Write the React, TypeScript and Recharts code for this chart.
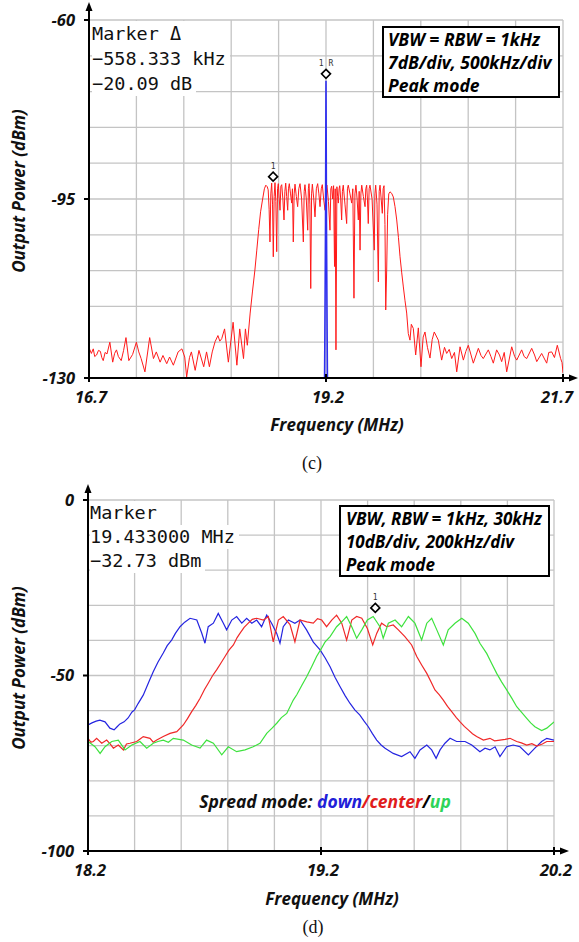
import React from 'react'
import { LineChart, Line, XAxis, YAxis, CartesianGrid, ReferenceDot } from 'recharts'

// ---- panel (c): single-tone reference vs. spread spectrum ----
const freqTicksC = [16.7, 17.2, 17.7, 18.2, 18.7, 19.2, 19.7, 20.2, 20.7, 21.2, 21.7]
const freqLabelsC = [16.7, 19.2, 21.7]
const powerTicksC = [-130, -123, -116, -109, -102, -95, -88, -81, -74, -67, -60]
const powerLabelsC = [-130, -95, -60]

const spreadC: [number, number][] = [
  [16.7, -124.2], [16.71, -124.5], [16.725, -125.2], [16.745, -124.3], [16.76, -125.8], [16.78, -125.5],
  [16.8, -124.6], [16.82, -124.8], [16.835, -126.0], [16.85, -126.6], [16.87, -125.0], [16.89, -125.3],
  [16.92, -123.0], [16.95, -126.9], [16.97, -125.2], [16.99, -124.5], [17.01, -125.8], [17.04, -126.6],
  [17.065, -124.6], [17.09, -122.1], [17.12, -126.6], [17.16, -125.4], [17.2, -123.0], [17.225, -124.9],
  [17.25, -126.2], [17.29, -128.8], [17.34, -122.1], [17.38, -126.2], [17.41, -124.9], [17.45, -126.9],
  [17.48, -125.6], [17.52, -127.2], [17.55, -125.9], [17.59, -127.5], [17.64, -124.9], [17.68, -124.3],
  [17.71, -125.9], [17.73, -129.8], [17.76, -126.0], [17.78, -124.9], [17.82, -128.5], [17.86, -124.6],
  [17.91, -127.8], [17.94, -124.9], [17.97, -127.8], [18.0, -124.9], [18.03, -122.9], [18.06, -121.7],
  [18.08, -122.8], [18.1, -122.3], [18.13, -120.4], [18.17, -126.9], [18.22, -119.1], [18.26, -127.5],
  [18.29, -120.4], [18.33, -126.2], [18.35, -120.4], [18.37, -123.6],
  [18.4, -117.3], [18.425, -113.0], [18.45, -108.9], [18.47, -105.0], [18.49, -101.0], [18.51, -97.5],
  [18.53, -95.2], [18.55, -93.0], [18.565, -92.3], [18.58, -92.6], [18.59, -93.2], [18.6, -97.0],
  [18.609, -103.4], [18.618, -94.0], [18.627, -91.9], [18.636, -96.0], [18.644, -106.3], [18.653, -94.5],
  [18.662, -91.8], [18.671, -95.5], [18.68, -105.3], [18.689, -93.0], [18.697, -92.0], [18.706, -94.8],
  [18.715, -97.2], [18.724, -92.5], [18.733, -92.2], [18.745, -95.0], [18.757, -99.1], [18.766, -93.5],
  [18.775, -91.9], [18.785, -94.5], [18.796, -97.2], [18.804, -93.0], [18.813, -92.0], [18.826, -94.0],
  [18.838, -95.8], [18.846, -93.0], [18.855, -103.4], [18.864, -94.0], [18.873, -92.1], [18.887, -94.5],
  [18.901, -96.5], [18.913, -93.0], [18.926, -92.0], [18.943, -95.0], [18.961, -103.4], [18.97, -93.5],
  [18.978, -92.2], [18.992, -95.0], [19.007, -101.1], [19.014, -93.0], [19.021, -92.0], [19.03, -96.0],
  [19.039, -112.5], [19.048, -94.0], [19.056, -92.1], [19.07, -94.8], [19.084, -98.5], [19.098, -93.0],
  [19.112, -92.0], [19.125, -94.0], [19.137, -96.5], [19.15, -93.0], [19.161, -92.2], [19.175, -95.0],
  [19.19, -97.2], [19.2, -93.0], [19.21, -92.3], [19.226, -95.5], [19.242, -101.1], [19.251, -93.0],
  [19.26, -92.5], [19.27, -95.0], [19.28, -92.4], [19.29, -108.2], [19.297, -93.0], [19.305, -124.5],
  [19.315, -92.6], [19.323, -94.5], [19.33, -95.8], [19.338, -93.0], [19.345, -92.4], [19.355, -95.0],
  [19.365, -99.1], [19.373, -93.5], [19.382, -92.3], [19.4, -96.0], [19.418, -99.8], [19.426, -93.0],
  [19.435, -92.3], [19.453, -94.0], [19.471, -95.8], [19.483, -93.0], [19.495, -114.4], [19.505, -94.0],
  [19.516, -92.3], [19.528, -95.0], [19.541, -99.1], [19.55, -93.5], [19.559, -105.0], [19.568, -94.0],
  [19.577, -92.3], [19.594, -94.5], [19.612, -96.5], [19.62, -93.0], [19.629, -92.3], [19.637, -95.0],
  [19.646, -99.8], [19.655, -93.0], [19.664, -92.3], [19.686, -95.0], [19.709, -105.0], [19.716, -94.0],
  [19.724, -92.3], [19.738, -96.0], [19.752, -111.2], [19.761, -93.5], [19.77, -92.3], [19.782, -95.0],
  [19.794, -97.8], [19.803, -93.0], [19.812, -92.4], [19.822, -100.0], [19.83, -116.7], [19.84, -108.9],
  [19.85, -98.0], [19.862, -94.0], [19.875, -93.6], [19.893, -93.9], [19.91, -94.6], [19.928, -96.5],
  [19.946, -99.1], [19.964, -102.5], [19.981, -106.3], [19.998, -109.3], [20.016, -112.2], [20.033, -114.8],
  [20.051, -117.3], [20.068, -121.3], [20.086, -122.6], [20.1, -119.5], [20.121, -120.3], [20.146, -125.5],
  [20.174, -120.2], [20.202, -127.8], [20.225, -122.0], [20.244, -121.0], [20.27, -124.0], [20.297, -126.1],
  [20.32, -122.5], [20.342, -121.0], [20.385, -122.6], [20.42, -126.5], [20.45, -124.0], [20.473, -125.2],
  [20.5, -124.4], [20.526, -126.2], [20.555, -125.0], [20.579, -128.8], [20.614, -123.9], [20.649, -126.5],
  [20.675, -124.8], [20.701, -123.6], [20.73, -125.5], [20.754, -127.1], [20.807, -124.2], [20.835, -125.6],
  [20.859, -126.2], [20.912, -124.5], [20.94, -125.8], [20.965, -127.1], [21.0, -124.5], [21.03, -125.5],
  [21.053, -126.8], [21.08, -125.0], [21.106, -128.8], [21.159, -123.9], [21.19, -125.8], [21.212, -126.5],
  [21.264, -124.5], [21.29, -125.8], [21.317, -126.2], [21.37, -124.2], [21.4, -125.5], [21.423, -126.8],
  [21.475, -125.2], [21.528, -127.1], [21.55, -125.0], [21.581, -124.9], [21.61, -126.0], [21.64, -123.6],
  [21.675, -126.2], [21.69, -127.0], [21.7, -129.0],
]

const toneC: [number, number][] = [
  [19.185, -130], [19.188, -122], [19.195, -100], [19.2, -71.9], [19.205, -100], [19.212, -122], [19.215, -130],
]

const markersC = [
  { f: 18.642, v: -92.0, label: '1' },
  { f: 19.2, v: -71.9, label: '1 R' },
]

// ---- panel (d): spread mode down / center / up ----
const freqTicksD = [18.2, 18.4, 18.6, 18.8, 19.0, 19.2, 19.4, 19.6, 19.8, 20.0, 20.2]
const freqLabelsD = [18.2, 19.2, 20.2]
const powerTicksD = [-100, -90, -80, -70, -60, -50, -40, -30, -20, -10, 0]
const powerLabelsD = [-100, -50, 0]

const downD: [number, number][] = [
  [18.2, -64.1], [18.217, -63.5], [18.235, -63.0], [18.251, -62.7], [18.273, -63.2], [18.294, -65.0],
  [18.312, -65.5], [18.325, -64.6], [18.337, -63.8], [18.355, -63.2], [18.372, -62.1], [18.389, -60.4],
  [18.4, -59.8], [18.415, -58.0], [18.437, -55.6], [18.46, -52.0], [18.48, -48.9], [18.5, -46.2],
  [18.523, -43.6], [18.54, -41.5], [18.559, -39.9], [18.575, -38.0], [18.595, -36.1], [18.615, -34.8],
  [18.638, -33.7], [18.667, -34.2], [18.688, -37.9], [18.702, -40.8], [18.716, -36.1], [18.738, -35.1],
  [18.759, -32.3], [18.781, -35.1], [18.795, -37.0], [18.817, -34.2], [18.838, -33.2], [18.86, -35.1],
  [18.881, -33.7], [18.903, -35.1], [18.924, -34.2], [18.945, -36.1], [18.967, -32.8], [18.988, -35.1],
  [19.01, -38.0], [19.024, -40.8], [19.038, -36.1], [19.06, -34.2], [19.088, -35.1], [19.11, -34.2],
  [19.138, -37.0], [19.167, -40.5], [19.196, -42.7], [19.218, -45.0], [19.239, -47.5], [19.26, -50.5],
  [19.282, -53.2], [19.304, -55.8], [19.324, -57.9], [19.345, -59.8], [19.367, -61.3], [19.385, -63.0],
  [19.403, -64.6], [19.42, -66.5], [19.439, -68.4], [19.458, -69.8], [19.475, -70.7], [19.51, -72.2],
  [19.546, -73.1], [19.582, -71.7], [19.603, -73.6], [19.625, -71.2], [19.654, -69.8], [19.675, -71.2],
  [19.694, -73.6], [19.711, -71.2], [19.732, -69.3], [19.754, -67.9], [19.782, -68.8], [19.818, -68.8],
  [19.847, -69.8], [19.882, -71.7], [19.904, -70.7], [19.925, -71.2], [19.947, -70.3], [19.968, -73.1],
  [19.997, -70.3], [20.025, -69.8], [20.054, -70.3], [20.09, -72.6], [20.118, -70.7], [20.147, -68.8],
  [20.169, -67.9], [20.2, -68.4],
]

const centerD: [number, number][] = [
  [18.2, -67.9], [18.212, -69.0], [18.223, -68.8], [18.237, -67.9], [18.259, -69.3], [18.28, -68.4],
  [18.295, -69.5], [18.309, -70.7], [18.33, -69.8], [18.352, -71.2], [18.365, -69.5], [18.38, -69.3],
  [18.409, -68.8], [18.425, -68.0], [18.437, -67.4], [18.466, -67.9], [18.48, -69.0], [18.495, -68.4],
  [18.523, -67.4], [18.552, -66.5], [18.581, -66.0], [18.609, -64.1], [18.627, -62.3], [18.645, -60.3],
  [18.663, -58.5], [18.681, -56.5], [18.7, -54.0], [18.716, -52.2], [18.735, -50.0], [18.752, -48.4],
  [18.77, -46.5], [18.788, -44.6], [18.805, -42.8], [18.824, -41.3], [18.84, -39.2], [18.852, -38.0],
  [18.87, -36.3], [18.888, -35.1], [18.905, -34.0], [18.924, -33.7], [18.953, -34.2], [18.974, -33.2],
  [18.995, -40.4], [19.017, -34.2], [19.038, -33.2], [19.067, -35.5], [19.088, -40.4], [19.11, -34.2],
  [19.139, -34.7], [19.167, -35.1], [19.185, -33.8], [19.203, -34.2], [19.224, -36.1], [19.246, -34.2],
  [19.267, -32.8], [19.289, -35.1], [19.31, -39.9], [19.332, -34.2], [19.353, -33.2], [19.375, -33.7],
  [19.399, -36.6], [19.422, -41.3], [19.439, -38.0], [19.46, -35.1], [19.482, -36.1], [19.51, -35.6],
  [19.532, -37.0], [19.56, -38.9], [19.589, -41.3], [19.611, -44.6], [19.632, -47.0], [19.654, -49.4],
  [19.672, -51.8], [19.689, -54.1], [19.708, -55.5], [19.725, -57.0], [19.743, -58.8], [19.761, -60.3],
  [19.78, -61.9], [19.797, -63.2], [19.815, -64.5], [19.832, -65.5], [19.85, -66.6], [19.868, -67.4],
  [19.897, -68.4], [19.925, -67.9], [19.945, -68.6], [19.968, -68.4], [19.99, -68.2], [20.011, -67.9],
  [20.04, -68.8], [20.06, -69.2], [20.083, -69.8], [20.105, -69.4], [20.126, -70.1], [20.15, -69.5],
  [20.169, -68.8], [20.2, -68.8],
]

const upD: [number, number][] = [
  [18.2, -68.8], [18.215, -69.5], [18.23, -70.3], [18.252, -72.2], [18.273, -70.3], [18.302, -68.8],
  [18.33, -68.4], [18.359, -71.2], [18.388, -69.8], [18.423, -68.8], [18.452, -70.7], [18.48, -69.3],
  [18.5, -68.8], [18.523, -68.4], [18.545, -69.0], [18.566, -67.9], [18.609, -68.4], [18.645, -69.8],
  [18.681, -70.7], [18.709, -68.4], [18.738, -69.3], [18.774, -72.6], [18.802, -70.3], [18.838, -71.7],
  [18.874, -71.2], [18.909, -70.3], [18.938, -69.3], [18.967, -66.5], [18.99, -65.0], [19.01, -63.6],
  [19.03, -62.0], [19.053, -60.8], [19.081, -57.0], [19.096, -55.5], [19.118, -52.8], [19.139, -50.3],
  [19.16, -47.5], [19.181, -44.6], [19.2, -42.5], [19.217, -40.5], [19.239, -38.9], [19.267, -36.1],
  [19.289, -34.7], [19.31, -33.2], [19.332, -36.1], [19.353, -39.4], [19.375, -37.0], [19.399, -34.2],
  [19.424, -33.2], [19.453, -36.1], [19.467, -39.4], [19.489, -35.1], [19.518, -34.2], [19.546, -36.1],
  [19.575, -33.2], [19.603, -35.1], [19.632, -39.9], [19.654, -35.1], [19.675, -33.7], [19.697, -37.0],
  [19.725, -41.3], [19.746, -37.0], [19.775, -35.1], [19.804, -33.7], [19.832, -35.1], [19.861, -38.0],
  [19.882, -40.8], [19.911, -43.7], [19.932, -46.5], [19.954, -49.4], [19.975, -51.8], [19.997, -54.1],
  [20.02, -56.6], [20.04, -58.9], [20.062, -60.6], [20.083, -62.2], [20.1, -63.5], [20.118, -64.6],
  [20.147, -65.7], [20.169, -65.0], [20.2, -63.2],
]

const markersD = [{ f: 19.433, v: -32.73, label: '1' }]

const LABEL_FONT = '"Open Sans", Lato, "Liberation Sans", sans-serif'
const MONO_FONT = '"DejaVu Sans Mono", "Liberation Mono", monospace'
const GRID = '#c4c4c4'

const rows = (pts: [number, number][]) => pts.map(([f, v]) => ({ f, v }))

const tickText = {
  fontFamily: LABEL_FONT,
  fontStyle: 'italic' as const,
  fontWeight: 700,
  fontSize: 16.5,
  fill: '#111',
}

const makeYTick = (labels: number[]) => (props: any) => {
  const { x, y, payload } = props
  if (!labels.includes(payload.value)) return <g />
  return (
    <g>
      <line x1={x - 5} x2={x} y1={y} y2={y} stroke="#000" strokeWidth={2} />
      <text x={x - 14} y={y} dy="0.36em" textAnchor="end" style={tickText}>
        {payload.value}
      </text>
    </g>
  )
}

const makeXTick = (labels: number[]) => (props: any) => {
  const { x, y, payload } = props
  if (!labels.includes(payload.value)) return <g />
  // keep the last label inside the 579 px page
  const tx = Math.min(x + 2, 557)
  return (
    <g>
      <line x1={x} x2={x} y1={y - 4} y2={y + 4} stroke="#000" strokeWidth={2} />
      <text x={tx} y={y + 25} textAnchor="middle" style={tickText}>
        {payload.value.toFixed(1)}
      </text>
    </g>
  )
}

const markerShape = (label: string) => (props: any) => {
  const { cx, cy } = props
  const c = cy - 7
  return (
    <g>
      <polygon
        points={`${cx},${c - 4.5} ${cx + 4.5},${c} ${cx},${c + 4.5} ${cx - 4.5},${c}`}
        fill="#fff"
        stroke="#000"
        strokeWidth={1.6}
      />
      <text x={cx} y={c - 8} textAnchor="middle" fontSize={8} fontFamily={MONO_FONT} fill="#333">
        {label}
      </text>
    </g>
  )
}

const readout: React.CSSProperties = {
  position: 'absolute',
  fontFamily: MONO_FONT,
  fontSize: 18.5,
  lineHeight: '25px',
  color: '#111',
  whiteSpace: 'pre',
}
const readoutLine: React.CSSProperties = { display: 'block', width: 'fit-content', background: '#fff', paddingRight: 4 }

const infoBox: React.CSSProperties = {
  position: 'absolute',
  boxSizing: 'border-box',
  border: '2px solid #000',
  background: '#fff',
  fontFamily: LABEL_FONT,
  fontStyle: 'italic',
  fontWeight: 700,
  fontSize: 17.5,
  lineHeight: '23px',
  color: '#000',
  whiteSpace: 'nowrap',
}

const axisTitle: React.CSSProperties = {
  position: 'absolute',
  fontFamily: LABEL_FONT,
  fontStyle: 'italic',
  fontWeight: 700,
  fontSize: 17,
  color: '#111',
  whiteSpace: 'nowrap',
  transform: 'translate(-50%, -50%)',
}

const caption: React.CSSProperties = {
  position: 'absolute',
  fontFamily: '"Liberation Serif", "DejaVu Serif", serif',
  fontSize: 18,
  color: '#111',
  transform: 'translate(-50%, -50%)',
}

export default function App() {
  const axisLine = { stroke: '#000', strokeWidth: 2 }
  return (
    <div style={{ position: 'absolute', left: 0, top: 0, width: 579, height: 942, background: '#fff', overflow: 'hidden' }}>
      {/* panel (c) */}
      <div style={{ position: 'absolute', left: 0, top: 0 }}>
        <LineChart width={579} height={470} margin={{ top: 20, right: 16, left: 29, bottom: 62 }}>
          <CartesianGrid stroke={GRID} strokeWidth={1.3} />
          <XAxis
            type="number"
            dataKey="f"
            domain={[16.7, 21.7]}
            ticks={freqTicksC}
            allowDataOverflow
            height={30}
            tickSize={0}
            tickMargin={0}
            tickLine={false}
            axisLine={axisLine}
            tick={makeXTick(freqLabelsC)}
            interval={0}
          />
          <YAxis
            type="number"
            domain={[-130, -60]}
            ticks={powerTicksC}
            allowDataOverflow
            width={60}
            tickSize={0}
            tickMargin={0}
            tickLine={false}
            axisLine={axisLine}
            tick={makeYTick(powerLabelsC)}
            interval={0}
          />
          <Line data={rows(spreadC)} dataKey="v" type="linear" stroke="#ff1a1a" strokeWidth={1} dot={false} isAnimationActive={false} />
          <Line data={rows(toneC)} dataKey="v" type="linear" stroke="#2f2fef" strokeWidth={1.6} dot={false} isAnimationActive={false} />
          {markersC.map((m) => (
            <ReferenceDot key={m.label} x={m.f} y={m.v} ifOverflow="visible" shape={markerShape(m.label)} />
          ))}
        </LineChart>
      </div>

      {/* panel (d) */}
      <div style={{ position: 'absolute', left: 0, top: 470 }}>
        <LineChart width={579} height={472} margin={{ top: 30, right: 25, left: 28, bottom: 61 }}>
          <CartesianGrid stroke={GRID} strokeWidth={1.3} />
          <XAxis
            type="number"
            dataKey="f"
            domain={[18.2, 20.2]}
            ticks={freqTicksD}
            allowDataOverflow
            height={30}
            tickSize={0}
            tickMargin={0}
            tickLine={false}
            axisLine={axisLine}
            tick={makeXTick(freqLabelsD)}
            interval={0}
          />
          <YAxis
            type="number"
            domain={[-100, 0]}
            ticks={powerTicksD}
            allowDataOverflow
            width={60}
            tickSize={0}
            tickMargin={0}
            tickLine={false}
            axisLine={axisLine}
            tick={makeYTick(powerLabelsD)}
            interval={0}
          />
          <Line data={rows(downD)} dataKey="v" type="linear" stroke="#2424e0" strokeWidth={1.2} dot={false} isAnimationActive={false} />
          <Line data={rows(centerD)} dataKey="v" type="linear" stroke="#f02828" strokeWidth={1.2} dot={false} isAnimationActive={false} />
          <Line data={rows(upD)} dataKey="v" type="linear" stroke="#3ee23e" strokeWidth={1.2} dot={false} isAnimationActive={false} />
          {markersD.map((m) => (
            <ReferenceDot key={m.label} x={m.f} y={m.v} ifOverflow="visible" shape={markerShape(m.label)} />
          ))}
        </LineChart>
      </div>

      {/* axis arrows */}
      <svg width={579} height={942} style={{ position: 'absolute', left: 0, top: 0, pointerEvents: 'none' }}>
        <line x1={89} y1={21} x2={89} y2={8} stroke="#000" strokeWidth={2} />
        <polygon points="89,2 85.5,11 92.5,11" fill="#000" />
        <line x1={562} y1={378} x2={572} y2={378} stroke="#000" strokeWidth={2} />
        <polygon points="578,378 569,374.5 569,381.5" fill="#000" />
        <line x1={88} y1={501} x2={88} y2={490} stroke="#000" strokeWidth={2} />
        <polygon points="88,484 84.5,493 91.5,493" fill="#000" />
        <line x1={553} y1={851} x2={563} y2={851} stroke="#000" strokeWidth={2} />
        <polygon points="569,851 560,847.5 560,854.5" fill="#000" />
      </svg>

      {/* marker readouts */}
      <div style={{ ...readout, left: 92, top: 21 }}>
        <span style={readoutLine}>Marker Δ</span>
        <span style={readoutLine}>−558.333 kHz</span>
        <span style={readoutLine}>−20.09 dB</span>
      </div>
      <div style={{ ...readout, left: 90, top: 501, lineHeight: '24px' }}>
        <span style={readoutLine}>Marker</span>
        <span style={readoutLine}>19.433000 MHz</span>
        <span style={readoutLine}>−32.73 dBm</span>
      </div>

      {/* settings boxes */}
      <div style={{ ...infoBox, left: 382, top: 26, width: 178, height: 72, padding: '0 0 0 4px' }}>
        <div>VBW = RBW = 1kHz</div>
        <div>7dB/div, 500kHz/div</div>
        <div>Peak mode</div>
      </div>
      <div style={{ ...infoBox, left: 339, top: 505, width: 211, height: 72, padding: '0 0 0 5px', fontSize: 17 }}>
        <div>VBW, RBW = 1kHz, 30kHz</div>
        <div>10dB/div, 200kHz/div</div>
        <div>Peak mode</div>
      </div>

      {/* legend line in panel (d) */}
      <div style={{ ...axisTitle, left: 325, top: 801, fontSize: 17.5 }}>
        <span>Spread mode: </span>
        <span style={{ color: '#2020d8' }}>down</span>
        <span style={{ color: '#e01c1c' }}>/center</span>
        <span style={{ color: '#000' }}>/</span>
        <span style={{ color: '#2ed45a' }}>up</span>
      </div>

      {/* axis titles and captions */}
      <div style={{ ...axisTitle, left: 18, top: 191, transform: 'translate(-50%, -50%) rotate(-90deg)' }}>Output Power (dBm)</div>
      <div style={{ ...axisTitle, left: 337, top: 424 }}>Frequency (MHz)</div>
      <div style={{ ...caption, left: 312, top: 463 }}>(c)</div>

      <div style={{ ...axisTitle, left: 18, top: 668, transform: 'translate(-50%, -50%) rotate(-90deg)' }}>Output Power (dBm)</div>
      <div style={{ ...axisTitle, left: 332, top: 898 }}>Frequency (MHz)</div>
      <div style={{ ...caption, left: 313, top: 927 }}>(d)</div>
    </div>
  )
}
